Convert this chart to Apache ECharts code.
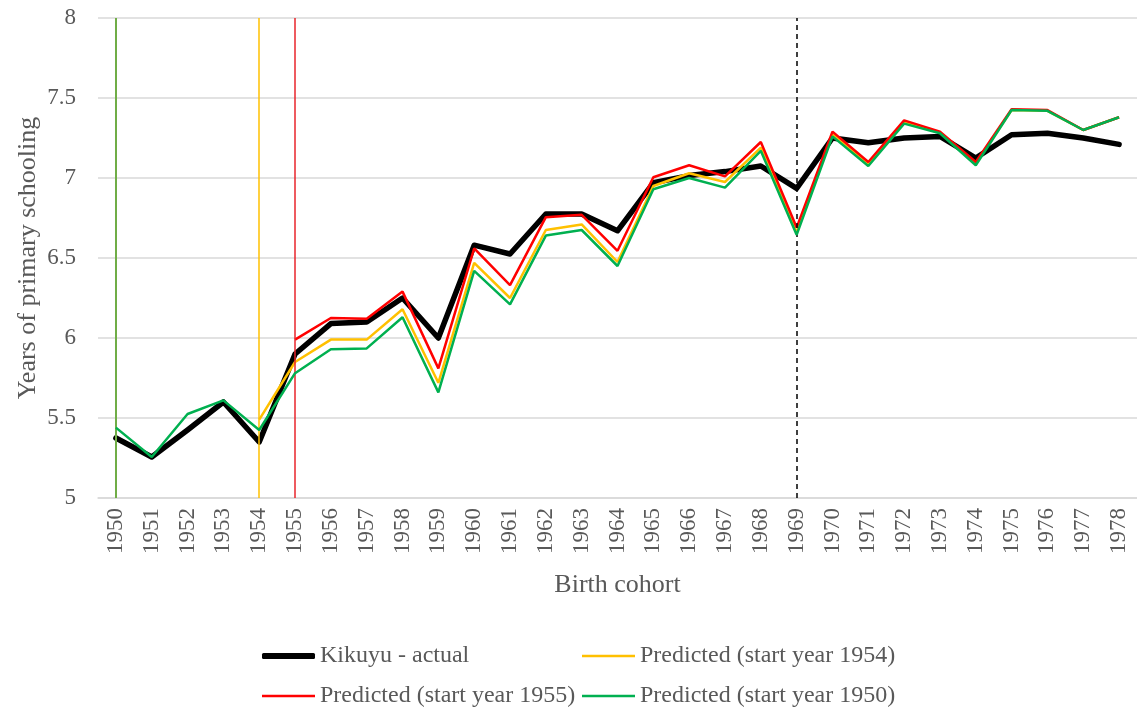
<!DOCTYPE html>
<html>
<head>
<meta charset="utf-8">
<script src="https://cdn.jsdelivr.net/npm/echarts@6/dist/echarts.min.js"></script>
<style>html,body{margin:0;padding:0;background:#fff}#c{width:1137px;height:712px}</style>
</head>
<body>
<div id="c"></div>
<script>
const years = ['1950','1951','1952','1953','1954','1955','1956','1957','1958','1959','1960','1961','1962','1963','1964','1965','1966','1967','1968','1969','1970','1971','1972','1973','1974','1975','1976','1977','1978'];
const actual = [5.375,5.256,5.425,5.60,5.35,5.90,6.09,6.10,6.25,6.00,6.58,6.525,6.775,6.775,6.67,6.97,7.015,7.04,7.075,6.935,7.25,7.22,7.25,7.26,7.125,7.27,7.28,7.25,7.21];
const pred1954 = [null,null,null,null,5.49,5.85,5.99,5.99,6.18,5.72,6.47,6.25,6.675,6.71,6.475,6.95,7.03,6.975,7.19,6.66,7.275,7.09,7.35,7.285,7.09,7.425,7.42,7.30,7.38];
const pred1955 = [null,null,null,null,null,5.99,6.125,6.12,6.29,5.81,6.56,6.33,6.755,6.77,6.545,7.005,7.08,7.01,7.225,6.69,7.29,7.10,7.36,7.29,7.10,7.43,7.425,7.30,7.38];
const pred1950 = [5.44,5.256,5.525,5.61,5.425,5.78,5.93,5.935,6.13,5.66,6.42,6.21,6.64,6.675,6.45,6.93,7.00,6.94,7.17,6.645,7.26,7.075,7.34,7.28,7.08,7.425,7.42,7.30,7.38];
const seriesNames = ['Kikuyu - actual','Predicted (start year 1954)','Predicted (start year 1955)','Predicted (start year 1950)'];
const yTicks = {min:5, max:8, interval:0.5};

const FONT = 'Liberation Serif';
const GRAY = '#595959';
const chart = echarts.init(document.getElementById('c'), null, {renderer:'canvas'});

function legend(name, left, top, icon, h){
  return {
    data:[{name:name, icon:icon}], left:left, top:top, orient:'horizontal',
    itemWidth:53, itemHeight:h, itemGap:0,
    textStyle:{fontFamily:FONT, fontSize:24, color:GRAY, padding:[0,0,0,0], lineHeight:24},
    padding:0
  };
}

function vline(x, color, width, type){
  return {silent:true, symbol:'none', label:{show:false},
    lineStyle:{color:color, width:width, type:type},
    data:[{xAxis:x}]};
}

chart.setOption({
  animation:false,
  backgroundColor:'#fff',
  grid:{left:98, right:-9, top:18, bottom:214, containLabel:false},
  legend:[
    legend(seriesNames[0], 262, 644, 'roundRect', 6),
    legend(seriesNames[1], 582, 644, 'rect', 2.5),
    legend(seriesNames[2], 262, 684, 'rect', 2.5),
    legend(seriesNames[3], 582, 684, 'rect', 2.5)
  ],
  xAxis:{
    type:'category', data:years, boundaryGap:true,
    name:'Birth cohort', nameLocation:'middle', nameGap:74,
    nameTextStyle:{fontFamily:FONT, fontSize:26, color:GRAY},
    axisLine:{lineStyle:{color:'#D9D9D9', width:1.5}},
    axisTick:{show:false},
    axisLabel:{interval:0, rotate:90, margin:10, fontFamily:FONT, fontSize:23, color:GRAY},
    splitLine:{show:false}
  },
  yAxis:{
    type:'value', min:yTicks.min, max:yTicks.max, interval:yTicks.interval,
    name:'Years of primary schooling', nameLocation:'middle', nameGap:57, nameRotate:90,
    nameMoveOverlap:false,
    nameTextStyle:{fontFamily:FONT, fontSize:26, color:GRAY},
    axisLine:{show:false}, axisTick:{show:false},
    axisLabel:{margin:22, fontFamily:FONT, fontSize:23, color:GRAY},
    splitLine:{lineStyle:{color:'#D9D9D9', width:1.5}}
  },
  series:[
    {name:seriesNames[0], type:'line', data:actual, symbol:'none', z:2,
     lineStyle:{color:'#000', width:5.5, cap:'round', join:'round'}, itemStyle:{color:'#000'},
     markLine:vline('1969', '#000', 1.5, [5,4])},
    {name:seriesNames[1], type:'line', data:pred1954, symbol:'none', z:3,
     lineStyle:{color:'#FFC000', width:2.5}, itemStyle:{color:'#FFC000'},
     markLine:vline('1954', '#FFC000', 1.5, 'solid')},
    {name:seriesNames[2], type:'line', data:pred1955, symbol:'none', z:4,
     lineStyle:{color:'#FF0000', width:2.5}, itemStyle:{color:'#FF0000'},
     markLine:vline('1955', '#E8252B', 1.5, 'solid')},
    {name:seriesNames[3], type:'line', data:pred1950, symbol:'none', z:5,
     lineStyle:{color:'#00B050', width:2.5}, itemStyle:{color:'#00B050'},
     markLine:vline('1950', '#70AD47', 2, 'solid')}
  ]
});
</script>
</body>
</html>
